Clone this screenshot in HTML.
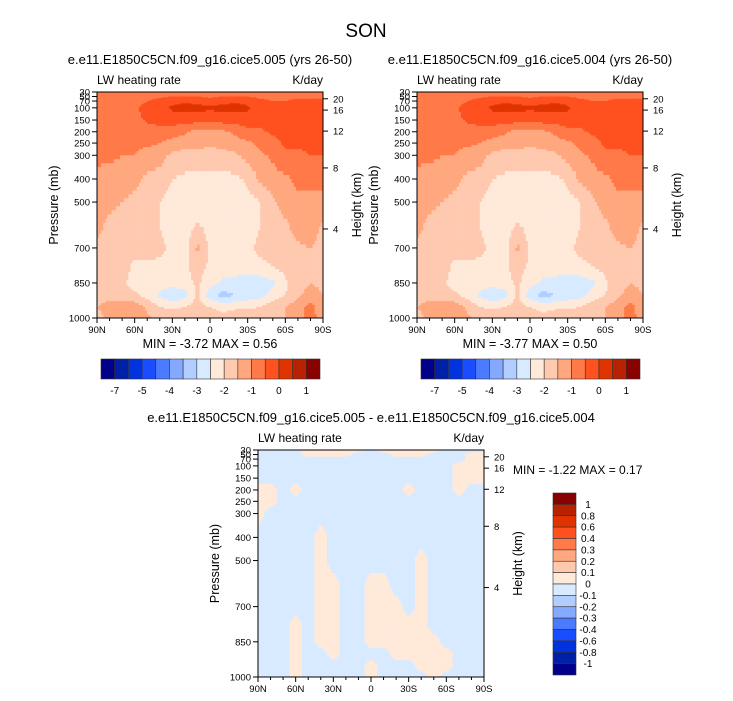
<!DOCTYPE html>
<html><head><meta charset="utf-8"><style>
body{margin:0;background:#fff}
svg{display:block;font-family:"Liberation Sans",Arial,sans-serif}
</style></head><body>
<svg id="fig" width="733" height="701" viewBox="0 0 733 701"></svg>
<script>
const lats=[90,80,70,60,50,40,30,20,10,0,-10,-20,-30,-40,-50,-60,-70,-80,-90];
const plevs=[30,50,70,100,150,200,250,300,400,500,600,700,775,850,900,950,1000];
const levelsA=[-7,-6,-5,-4.5,-4,-3.5,-3,-2.5,-2,-1.5,-1,-0.5,0,0.5,1];
const labelsA=["-7","-5","-4","-3","-2","-1","0","1"];
const levelsD=[-1,-0.8,-0.6,-0.4,-0.3,-0.2,-0.1,0,0.1,0.2,0.3,0.4,0.6,0.8,1];
const labelsD=["1","0.8","0.6","0.4","0.3","0.2","0.1","0","-0.1","-0.2","-0.3","-0.4","-0.6","-0.8","-1"];
const colors=["#00008a","#0020a8","#0033dd","#1a4dff","#4a7aff","#85a9ff","#b2cdff","#d8eaff","#ffe9d9","#ffc9b0","#ffa87f","#ff7a48","#ff5020","#e03300","#b82200","#880000"];
const fieldA=[
[-0.8,-0.8,-0.8,-0.8,-0.7,-0.7,-0.7,-0.6,-0.6,-0.6,-0.6,-0.6,-0.6,-0.7,-0.7,-0.7,-0.7,-0.7,-0.7],
[-0.8,-0.8,-0.8,-0.8,-0.7,-0.6,-0.5,-0.5,-0.5,-0.6,-0.5,-0.5,-0.5,-0.6,-0.6,-0.6,-0.6,-0.6,-0.6],
[-0.8,-0.8,-0.8,-0.7,-0.5,-0.3,-0.2,-0.1,-0.2,-0.3,-0.2,-0.1,-0.2,-0.4,-0.5,-0.5,-0.4,-0.4,-0.4],
[-0.8,-0.8,-0.7,-0.6,-0.3,-0.2,0.1,0.2,0.2,0.1,0.2,0.2,0.1,-0.3,-0.4,-0.3,-0.3,-0.3,-0.3],
[-0.8,-0.8,-0.8,-0.7,-0.4,-0.3,-0.3,-0.3,-0.3,-0.4,-0.3,-0.3,-0.3,-0.3,-0.3,-0.3,-0.3,-0.3,-0.3],
[-0.9,-0.9,-0.9,-0.8,-0.8,-0.7,-0.7,-0.9,-1.2,-1.1,-1.1,-0.9,-0.6,-0.6,-0.4,-0.3,-0.3,-0.3,-0.3],
[-0.9,-0.9,-0.9,-0.9,-0.9,-1.0,-1.2,-1.3,-1.3,-1.4,-1.3,-1.2,-1.1,-0.9,-0.7,-0.4,-0.4,-0.4,-0.4],
[-0.9,-0.9,-1.0,-1.0,-1.2,-1.3,-1.6,-1.7,-1.7,-1.7,-1.7,-1.6,-1.3,-1.1,-0.9,-0.6,-0.6,-0.5,-0.5],
[-1.1,-1.2,-1.3,-1.4,-1.6,-1.7,-2.0,-2.1,-2.2,-2.2,-2.2,-2.1,-1.9,-1.4,-1.2,-1.1,-0.9,-0.9,-0.9],
[-1.3,-1.4,-1.5,-1.6,-1.7,-2.0,-2.2,-2.3,-2.3,-2.3,-2.3,-2.3,-2.2,-2.0,-1.6,-1.3,-1.1,-1.1,-1.1],
[-1.4,-1.6,-1.7,-1.7,-1.8,-2.0,-2.2,-2.3,-1.9,-2.2,-2.3,-2.3,-2.2,-2.0,-1.7,-1.6,-1.3,-1.2,-1.6],
[-1.6,-1.7,-1.7,-1.8,-1.8,-1.9,-2.1,-2.2,-1.4,-2.1,-2.2,-2.2,-2.1,-1.9,-1.8,-1.7,-1.6,-1.5,-1.7],
[-1.7,-1.7,-1.8,-2.1,-2.1,-2.1,-2.1,-2.1,-1.8,-2.1,-2.2,-2.2,-2.3,-2.1,-2.0,-1.8,-1.6,-1.5,-1.6],
[-1.7,-1.8,-1.9,-2.2,-2.2,-2.3,-2.3,-2.2,-1.9,-2.3,-2.6,-2.7,-2.8,-2.8,-2.6,-2.1,-1.7,-1.5,-1.6],
[-1.6,-1.6,-1.7,-1.9,-2.2,-2.6,-2.9,-2.7,-1.9,-2.8,-3.2,-3.0,-2.8,-2.7,-2.3,-2.0,-1.6,-1.3,-1.5],
[-1.5,-1.4,-1.3,-1.2,-1.6,-2.0,-2.1,-2.0,-1.8,-2.0,-2.2,-2.1,-2.1,-2.0,-1.7,-1.5,-1.2,-0.8,-1.4],
[-1.6,-1.4,-1.2,-1.0,-1.4,-1.6,-1.7,-1.7,-1.6,-1.7,-1.8,-1.7,-1.6,-1.6,-1.6,-1.5,-1.4,-0.6,-1.5]];
const fieldB=[
[-0.8,-0.8,-0.8,-0.8,-0.7,-0.7,-0.7,-0.6,-0.6,-0.6,-0.6,-0.6,-0.6,-0.7,-0.7,-0.7,-0.7,-0.7,-0.7],
[-0.8,-0.8,-0.8,-0.8,-0.7,-0.6,-0.5,-0.5,-0.5,-0.6,-0.5,-0.5,-0.5,-0.6,-0.6,-0.6,-0.6,-0.6,-0.6],
[-0.8,-0.8,-0.8,-0.7,-0.5,-0.3,-0.2,-0.1,-0.2,-0.3,-0.2,-0.1,-0.2,-0.4,-0.5,-0.5,-0.4,-0.4,-0.4],
[-0.8,-0.8,-0.7,-0.6,-0.3,-0.2,0.1,0.2,0.2,0.1,0.2,0.2,0.1,-0.3,-0.4,-0.3,-0.3,-0.3,-0.3],
[-0.8,-0.8,-0.8,-0.7,-0.4,-0.3,-0.3,-0.3,-0.3,-0.4,-0.3,-0.3,-0.3,-0.3,-0.3,-0.3,-0.3,-0.3,-0.3],
[-0.9,-0.9,-0.9,-0.8,-0.8,-0.7,-0.7,-0.9,-1.2,-1.1,-1.1,-0.9,-0.6,-0.6,-0.4,-0.3,-0.3,-0.3,-0.3],
[-0.9,-0.9,-0.9,-0.9,-0.9,-1.0,-1.2,-1.3,-1.3,-1.4,-1.3,-1.2,-1.1,-0.9,-0.7,-0.4,-0.4,-0.4,-0.4],
[-0.9,-0.9,-1.0,-1.0,-1.2,-1.3,-1.6,-1.7,-1.7,-1.7,-1.7,-1.6,-1.3,-1.1,-0.9,-0.6,-0.6,-0.5,-0.5],
[-1.1,-1.2,-1.3,-1.4,-1.6,-1.7,-2.0,-2.1,-2.2,-2.2,-2.2,-2.1,-1.9,-1.4,-1.2,-1.1,-0.9,-0.9,-0.9],
[-1.3,-1.4,-1.5,-1.6,-1.7,-2.0,-2.2,-2.3,-2.3,-2.3,-2.3,-2.3,-2.2,-2.0,-1.6,-1.3,-1.1,-1.1,-1.1],
[-1.4,-1.6,-1.7,-1.7,-1.8,-2.0,-2.2,-2.3,-1.9,-2.2,-2.3,-2.3,-2.2,-2.0,-1.7,-1.6,-1.3,-1.2,-1.6],
[-1.6,-1.7,-1.7,-1.8,-1.8,-1.9,-2.1,-2.2,-1.4,-2.1,-2.2,-2.2,-2.1,-1.9,-1.8,-1.7,-1.6,-1.5,-1.7],
[-1.7,-1.7,-1.8,-2.1,-2.1,-2.1,-2.1,-2.1,-1.8,-2.1,-2.2,-2.2,-2.3,-2.1,-2.0,-1.8,-1.6,-1.5,-1.6],
[-1.7,-1.8,-1.9,-2.2,-2.2,-2.3,-2.3,-2.2,-1.9,-2.3,-2.6,-2.7,-2.8,-2.8,-2.6,-2.1,-1.7,-1.5,-1.6],
[-1.6,-1.6,-1.7,-1.9,-2.2,-2.6,-2.9,-2.7,-1.9,-2.8,-3.2,-3.0,-2.8,-2.7,-2.3,-2.0,-1.6,-1.3,-1.5],
[-1.5,-1.4,-1.3,-1.2,-1.6,-2.0,-2.1,-2.0,-1.8,-2.0,-2.2,-2.1,-2.1,-2.0,-1.7,-1.5,-1.2,-0.8,-1.4],
[-1.6,-1.4,-1.2,-1.0,-1.4,-1.6,-1.7,-1.7,-1.6,-1.7,-1.8,-1.7,-1.6,-1.6,-1.6,-1.5,-1.4,-0.6,-1.5]];
const fieldD=[
[-.05,-.05,-.05,-.05,.05,.05,.05,.05,.05,-.05,.05,.05,.05,.05,.05,-.05,-.05,-.05,-.05],
[-.05,-.05,-.05,-.05,.05,.05,.05,.05,-.05,-.05,-.05,.05,.05,.05,-.05,-.05,-.05,.05,.05],
[-.05,-.05,-.05,-.05,-.05,-.05,-.05,-.05,-.05,-.05,-.05,-.05,-.05,-.05,-.05,-.05,-.05,.05,.05],
[-.05,-.05,-.05,-.05,-.05,-.05,-.05,-.05,-.05,-.05,-.05,-.05,-.05,-.05,-.05,-.05,.05,.05,.05],
[-.05,-.05,-.05,-.05,-.05,-.05,-.05,-.05,-.05,-.05,-.05,-.05,-.05,-.05,-.05,-.05,.05,.05,.05],
[.05,.05,-.05,.05,-.05,-.05,-.05,-.05,-.05,-.05,-.05,-.05,.05,-.05,-.05,-.05,.05,-.05,-.05],
[.05,.05,-.05,-.05,-.05,-.05,-.05,-.05,-.05,-.05,-.05,-.05,-.05,-.05,-.05,-.05,-.05,-.05,-.05],
[.05,-.05,-.05,-.05,-.05,-.05,-.05,-.05,-.05,-.05,-.05,-.05,-.05,-.05,-.05,-.05,-.05,-.05,-.05],
[-.05,-.05,-.05,-.05,-.05,.05,-.05,-.05,-.05,-.05,-.05,-.05,-.05,-.05,-.05,-.05,-.05,-.05,-.05],
[-.05,-.05,-.05,-.05,-.05,.05,-.05,-.05,-.05,-.05,-.05,-.05,-.05,.05,-.05,-.05,-.05,-.05,-.05],
[-.05,-.05,-.05,-.05,-.05,.05,.05,-.05,-.05,.05,.05,-.05,-.05,.05,-.05,-.05,-.05,-.05,-.05],
[-.05,-.05,-.05,-.05,-.05,.05,.05,-.05,-.05,.05,.05,.05,-.05,.05,-.05,-.05,-.05,-.05,-.05],
[-.05,-.05,-.05,.05,-.05,.05,.05,-.05,-.05,.05,.05,.05,.05,.05,-.05,-.05,-.05,-.05,-.05],
[-.05,-.05,-.05,.05,-.05,.05,.05,-.05,-.05,.05,.05,.05,.05,.05,.05,-.05,-.05,-.05,-.05],
[-.05,-.05,-.05,.05,-.05,-.05,.05,-.05,-.05,-.05,-.05,.05,.05,.05,.05,.05,-.05,-.05,-.05],
[-.05,-.05,-.05,.05,-.05,-.05,-.05,-.05,-.05,.05,-.05,-.05,-.05,.05,.05,.05,-.05,-.05,-.05],
[-.05,-.05,-.05,.05,-.05,-.05,-.05,-.05,-.05,.05,-.05,-.05,-.05,-.05,.05,-.05,-.05,-.05,-.05]];
const presTicks=[30,50,70,100,150,200,250,300,400,500,700,850,1000];
const heightTicks=[4,8,12,16,20];
const latTicks=["90N","60N","30N","0","30S","60S","90S"];

const NS="http://www.w3.org/2000/svg";
const svg=document.getElementById('fig');
function mk(tag,attrs,parent){const e=document.createElementNS(NS,tag);for(const k in attrs)e.setAttribute(k,attrs[k]);(parent||svg).appendChild(e);return e;}
function txt(s,x,y,size,anchor,parent,name){const t=mk('text',{x:x,y:y,'font-size':size,'text-anchor':anchor||'start',fill:'#000'},parent);t.textContent=s;


return t;}
const pk=[1000,850,700,500,400,300,250,200,150,100,70,50,30];
const pf=[0,.155,.31,.513,.615,.72,.774,.824,.876,.93,.96,.98,1];
function pfrac(p){const lp=Math.log(p);for(let i=0;i<pk.length-1;i++){const a=Math.log(pk[i]),b=Math.log(pk[i+1]);if(lp<=a&&lp>=b){return pf[i]+(pf[i+1]-pf[i])*(a-lp)/(a-b);}}return p>1000?0:1;}
const hk=[4,8,12,16,20],hf=[.394,.664,.827,.92,.97];
function hfrac(h){return hf[hk.indexOf(h)];}
function colorFor(v,levels){let i=0;while(i<levels.length&&v>=levels[i])i++;return colors[i];}

function panel(name,X,Y,W,H,field,levels){
  const g=mk('g',{});
  
  
  const xs=la=>X+W*(90-la)/180;
  const ys=p=>Y+H*(1-pfrac(p));
  const SUB=6;
  for(let r=0;r<plevs.length-1;r++){
    for(let c=0;c<lats.length-1;c++){
      const y0=ys(plevs[r]),y1=ys(plevs[r+1]),x0=xs(lats[c]),x1=xs(lats[c+1]);
      for(let i=0;i<SUB;i++)for(let j=0;j<SUB;j++){
        const u=(j+0.5)/SUB,v=(i+0.5)/SUB;
        const val=(1-u)*(1-v)*field[r][c]+u*(1-v)*field[r][c+1]+(1-u)*v*field[r+1][c]+u*v*field[r+1][c+1];
        const cell=mk('rect',{x:(x0+(x1-x0)*j/SUB).toFixed(2),y:(y0+(y1-y0)*i/SUB).toFixed(2),width:((x1-x0)/SUB+0.4).toFixed(2),height:((y1-y0)/SUB+0.4).toFixed(2),fill:colorFor(val,levels)},g);
        
        
      }
    }
  }
  const fr=mk('rect',{x:X,y:Y,width:W,height:H,fill:'none',stroke:'#000','stroke-width':1},g);
  
  
  presTicks.forEach(p=>{const y=ys(p);mk('line',{x1:X-5,x2:X,y1:y,y2:y,stroke:'#000'},g);
    txt(String(p),X-7,y+3.5,9.5,'end',g,'pressure-tick-label');});
  heightTicks.forEach(h=>{const y=Y+H*(1-hfrac(h));mk('line',{x1:X+W,x2:X+W+5,y1:y,y2:y,stroke:'#000'},g);
    txt(String(h),X+W+10,y+3.5,9.5,'start',g,'height-tick-label');});
  for(let la=90;la>=-90;la-=10){const x=xs(la);const major=la%30===0;mk('line',{x1:x,x2:x,y1:Y+H,y2:Y+H+(major?5:3),stroke:'#000'},g);}
  latTicks.forEach((s,i)=>txt(s,X+W*i/6,Y+H+15,9.5,'middle',g,'lat-tick-label'));
  const yl=txt('Pressure (mb)',0,0,12.5,'middle',g,'y-axis-title');yl.setAttribute('transform',`translate(${X-39},${Y+H/2}) rotate(-90)`);
  const hl=txt('Height (km)',0,0,12.5,'middle',g,'right-axis-title');hl.setAttribute('transform',`translate(${X+W+38},${Y+H/2}) rotate(-90)`);
  txt('LW heating rate',X,Y-8,12,'start',g,'variable-label');
  txt('K/day',X+W,Y-8,12,'end',g,'units-label');
  return g;
}
function hbar(name,X,Y,W,H,labels){
  const g=mk('g',{});
  
  
  const bw=W/16;
  colors.forEach((c,i)=>{const r=mk('rect',{x:X+i*bw,y:Y,width:bw,height:H,fill:c,stroke:'#333','stroke-width':0.6},g);
    
    });
  labels.forEach((s,i)=>txt(s,X+bw*(2*i+1),Y+H+15,10,'middle',g,'colorbar-label'));
}
function vbar(name,X,Y,W,H,labels){
  const g=mk('g',{});
  
  
  const bh=H/16;
  colors.slice().reverse().forEach((c,i)=>{const r=mk('rect',{x:X,y:Y+i*bh,width:W,height:bh,fill:c,stroke:'#333','stroke-width':0.6},g);
    
    });
  labels.forEach((s,i)=>txt(s,X+W+12,Y+bh*(i+1)+3.5,10,'middle',g,'colorbar-label'));
}
txt('SON',366,37,19,'middle',svg,'figure-title');
txt('e.e11.E1850C5CN.f09_g16.cice5.005 (yrs 26-50)',210,64,13,'middle',svg,'panel1-title');
txt('e.e11.E1850C5CN.f09_g16.cice5.004 (yrs 26-50)',530,64,13,'middle',svg,'panel2-title');
panel('panel-005',97,92,226,226,fieldA,levelsA);
panel('panel-004',417,92,226,226,fieldB,levelsA);
txt('MIN =  -3.72  MAX =   0.56',210,348,12.5,'middle',svg,'panel1-minmax');
txt('MIN =  -3.77  MAX =   0.50',530,348,12.5,'middle',svg,'panel2-minmax');
hbar('colorbar-005',101,359,219,20,labelsA);
hbar('colorbar-004',421,359,219,20,labelsA);
txt('e.e11.E1850C5CN.f09_g16.cice5.005 - e.e11.E1850C5CN.f09_g16.cice5.004',371,422,13,'middle',svg,'diff-title');
panel('panel-diff',258,450,226,227,fieldD,levelsD);
txt('MIN =  -1.22  MAX =   0.17',513,474,12,'start',svg,'diff-minmax');
vbar('colorbar-diff',553,493,23,182,labelsD);
</script>
</body></html>
